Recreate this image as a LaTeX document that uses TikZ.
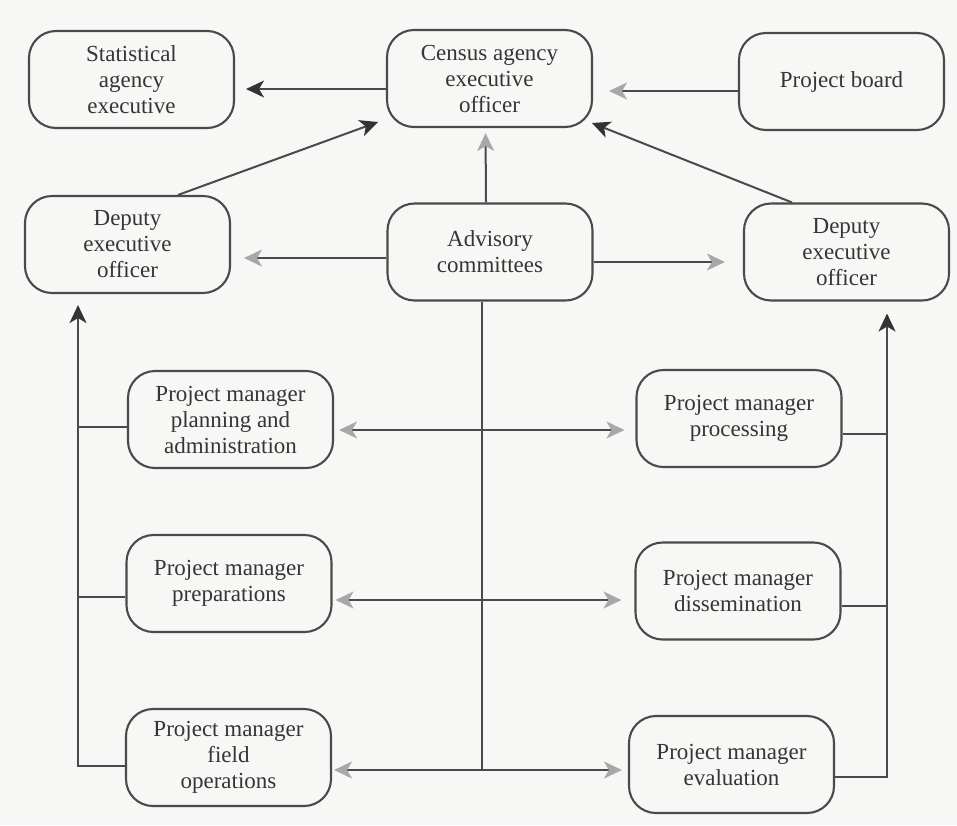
\documentclass[tikz,border=0pt]{standalone}
\usepackage{fontspec}
\setmainfont{Liberation Serif}
\usetikzlibrary{arrows.meta}
\definecolor{bg}{HTML}{F7F7F5}
\definecolor{linec}{HTML}{4A4A4A}
\definecolor{txt}{HTML}{353535}
\definecolor{tipdark}{HTML}{333333}
\definecolor{tipgray}{HTML}{A8A8A8}
\tikzset{
  box/.style={draw=linec, line width=2.1pt, rounded corners=27pt,
    minimum width=205pt, minimum height=97pt, align=center,
    text=txt, font=\fontsize{23}{26}\selectfont, inner sep=2pt},
  conn/.style={draw=linec, line width=2pt},
  darr/.style={conn, -{Stealth[length=18pt,width=17pt,inset=5pt,color=tipdark]}},
  garr/.style={conn, -{Stealth[length=18pt,width=17pt,inset=5pt,color=tipgray]}},
  gboth/.style={conn, {Stealth[length=18pt,width=17pt,inset=5pt,color=tipgray]}-{Stealth[length=18pt,width=17pt,inset=5pt,color=tipgray]}}
}
\begin{document}
\begin{tikzpicture}[x=1pt,y=-1pt]
\fill[bg] (0,0) rectangle (957,825);
\useasboundingbox (0,0) rectangle (957,825);

\node[box] (stat)   at (131.5,79.5) {Statistical\\agency\\executive};
\node[box] (census) at (489.5,78.5) {Census agency\\executive\\officer};
\node[box] (board)  at (841.5,81.5) {Project board};
\node[box] (ldep)   at (127.5,244.5) {Deputy\\executive\\officer};
\node[box] (adv)    at (490,252) {Advisory\\committees};
\node[box] (rdep)   at (846.5,252) {Deputy\\executive\\officer};
\node[box] (pmpa)   at (230.5,419.5) {Project manager\\planning and\\administration};
\node[box] (pmproc) at (739,418.5) {Project manager\\processing};
\node[box] (pmprep) at (229,583.5) {Project manager\\preparations};
\node[box] (pmdiss) at (738,591) {Project manager\\dissemination};
\node[box] (pmfield) at (228.5,757.5) {Project manager\\field\\operations};
\node[box] (pmeval) at (731.5,764.5) {Project manager\\evaluation};

% top row
\draw[darr, shorten >=11pt] ([yshift=-10.5pt]census.west) -- ([yshift=-9.5pt]stat.east);
\draw[garr, shorten >=16pt] ([yshift=-9.5pt]board.west) -- ([yshift=-12.5pt]census.east);
\draw[darr] ([xshift=50.5pt]ldep.north) -- ([xshift=-111.5pt,yshift=-43.5pt]census.center);
\draw[darr] ([xshift=-54.5pt]rdep.north) -- ([xshift=102.5pt,yshift=-44.5pt]census.center);
\draw[garr, shorten >=5pt] ([xshift=-4pt]adv.north) -- ([xshift=-4pt]census.south);
\draw[garr, shorten >=13pt] ([yshift=-6pt]adv.west) -- ([yshift=-13.5pt]ldep.east);
\draw[garr, shorten >=18pt] ([yshift=-10pt]adv.east) -- ([yshift=-10pt]rdep.west);

% central line
\coordinate (cbot) at ([xshift=-8pt]adv.south |- 0,770);
\draw[conn] ([xshift=-8pt]adv.south) -- (cbot);

% horizontal double arrows
\draw[gboth, shorten <=5pt, shorten >=11pt] ([yshift=-10.5pt]pmpa.east) -- ([yshift=-11.5pt]pmproc.west);
\draw[gboth, shorten <=3pt, shorten >=13pt] ([yshift=-16.5pt]pmprep.east) -- ([yshift=-9pt]pmdiss.west);
\draw[gboth, shorten <=2pt, shorten >=6pt] ([yshift=-12.5pt]pmfield.east) -- ([yshift=-5.5pt]pmeval.west);

% left bus
\draw[darr, shorten >=11pt] ([yshift=-8.5pt]pmfield.west) -| ([xshift=-49.5pt]ldep.south);
\draw[conn] ([yshift=-7.5pt]pmpa.west) -- ++(-50,0);
\draw[conn] ([yshift=-13.5pt]pmprep.west) -- ++(-48,0);

% right bus
\draw[darr, shorten >=12pt] ([yshift=-12.5pt]pmeval.east) -| ([xshift=40.5pt]rdep.south);
\draw[conn] ([yshift=-15.5pt]pmproc.east) -- ++(45,0);
\draw[conn] ([yshift=-15pt]pmdiss.east) -- ++(46,0);
\end{tikzpicture}
\end{document}
